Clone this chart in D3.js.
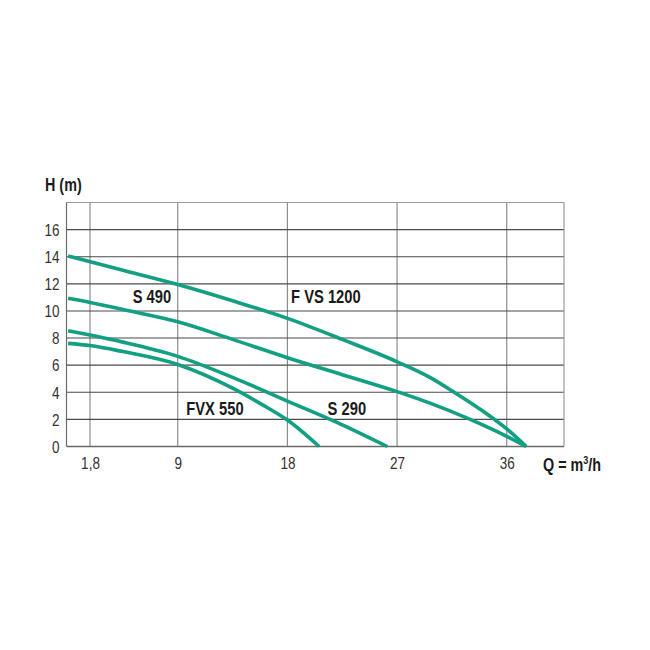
<!DOCTYPE html>
<html>
<head>
<meta charset="utf-8">
<script src="https://cdn.jsdelivr.net/npm/d3@7"></script>
<style>
  html, body { margin: 0; padding: 0; background: #fff; }
  svg { display: block; }
  .narrow { font-family: "Liberation Sans", Arial, sans-serif; }
</style>
</head>
<body>
<svg id="chart" width="650" height="650"></svg>
<script>
// ---- data ----
const xTicks = [1.8, 9, 18, 27, 36];
const xTickLabels = ["1,8", "9", "18", "27", "36"];
const yTicks = [0, 2, 4, 6, 8, 10, 12, 14, 16];

const seriesNames = ["F VS 1200", "S 490", "S 290", "FVX 550"];

const fvs1200Q = [0, 4.5, 9, 13.5, 18, 22.5, 27, 29.7, 31.6, 34.3, 36, 37.6];
const fvs1200H = [14.05, 13.0, 11.95, 10.75, 9.45, 7.9, 6.25, 5.1, 4.05, 2.45, 1.3, 0];

const s490Q = [0, 1.8, 4.5, 9, 13.5, 18, 22.5, 27, 29.7, 33, 36, 37.6];
const s490H = [10.93, 10.63, 10.1, 9.2, 7.9, 6.55, 5.3, 4.05, 3.2, 2.0, 0.75, 0];

const s290Q = [0, 1.8, 4.5, 9, 13.5, 18, 22.5, 26.2];
const s290H = [8.54, 8.22, 7.7, 6.65, 5.1, 3.35, 1.6, 0];

const fvx550Q = [0, 1.8, 4.5, 9, 13.5, 16, 18, 20.6];
const fvx550H = [7.61, 7.45, 7.0, 6.05, 4.3, 3.05, 1.95, 0];

const labelText = ["S 490", "F VS 1200", "FVX 550", "S 290"];
const labelQ = [5.3, 18.3, 9.7, 21.3];
const labelH = [10.55, 10.55, 2.3, 2.3];

// ---- layout ----
const svg = d3.select("#chart");
const pLeft = 66.5, pRight = 564, pTop = 202.5, pBottom = 446.5;
const squeeze = "scale(0.82,1)";

const x = d3.scaleLinear().domain([-0.13, 40.7]).range([pLeft, pRight]);
const y = d3.scaleLinear().domain([0, 18]).range([pBottom, pTop]);

const green = "#129f82";

// vertical grid lines
svg.append("g").selectAll("line").data(xTicks).join("line")
  .attr("x1", d => x(d)).attr("x2", d => x(d))
  .attr("y1", pTop).attr("y2", pBottom)
  .attr("stroke", "#8c8c8c").attr("stroke-width", 1.2);

// horizontal grid lines
svg.append("g").selectAll("line").data(yTicks.filter(d => d > 0)).join("line")
  .attr("x1", pLeft).attr("x2", pRight)
  .attr("y1", d => y(d)).attr("y2", d => y(d))
  .attr("stroke", "#4a4a4a").attr("stroke-width", 1.1);

// frame
svg.append("line").attr("x1", pLeft).attr("x2", pRight).attr("y1", pTop).attr("y2", pTop)
  .attr("stroke", "#9a9a9a").attr("stroke-width", 1.2);
svg.append("line").attr("x1", pRight).attr("x2", pRight).attr("y1", pTop).attr("y2", pBottom)
  .attr("stroke", "#9a9a9a").attr("stroke-width", 1.2);
svg.append("line").attr("x1", pLeft).attr("x2", pLeft).attr("y1", pTop).attr("y2", pBottom)
  .attr("stroke", "#6a6a6a").attr("stroke-width", 1.2);
svg.append("line").attr("x1", pLeft).attr("x2", pRight).attr("y1", pBottom).attr("y2", pBottom)
  .attr("stroke", "#6a6a6a").attr("stroke-width", 1.3);

// axes (labels only)
const yAxis = d3.axisLeft(y).tickValues(yTicks).tickSize(0).tickPadding(0).tickFormat(d3.format("d"));
const gy = svg.append("g").attr("transform", `translate(${pLeft - 7},0)`).call(yAxis);
gy.select(".domain").remove();
gy.attr("font-family", null);
gy.selectAll("text").attr("class", "narrow").attr("font-size", 16.5).attr("fill", "#333")
  .attr("dy", "0.35em").attr("transform", squeeze);

const xAxis = d3.axisBottom(x).tickValues(xTicks).tickSize(0).tickPadding(0)
  .tickFormat((d, i) => xTickLabels[i]);
const gx = svg.append("g").attr("transform", `translate(0,${pBottom + 10})`).call(xAxis);
gx.select(".domain").remove();
gx.attr("font-family", null);
gx.selectAll("text").attr("class", "narrow").attr("font-size", 16.5).attr("fill", "#333")
  .attr("dy", "0.75em").attr("transform", squeeze);

// curves
const line = d3.line().x(d => x(d[0])).y(d => y(d[1])).curve(d3.curveMonotoneX);
const allQ = [fvs1200Q, s490Q, s290Q, fvx550Q];
const allH = [fvs1200H, s490H, s290H, fvx550H];
svg.append("g").selectAll("path").data(seriesNames).join("path")
  .attr("d", (n, i) => line(allQ[i].map((q, j) => [q, allH[i][j]])))
  .attr("fill", "none").attr("stroke", green).attr("stroke-width", 3.6);

// curve labels
svg.append("g").selectAll("text").data(labelText).join("text")
  .attr("class", "narrow")
  .attr("transform", (d, i) => `translate(${x(labelQ[i])},${y(labelH[i])}) ${squeeze}`)
  .attr("font-size", 18).attr("font-weight", "bold").attr("fill", "#1a1a1a")
  .text(d => d);

// axis titles
svg.append("text").attr("class", "narrow")
  .attr("transform", `translate(45,191) ${squeeze}`)
  .attr("font-size", 17.5).attr("font-weight", "bold").attr("fill", "#1a1a1a")
  .text("H (m)");

const qt = svg.append("text").attr("class", "narrow")
  .attr("transform", `translate(543,471) ${squeeze}`)
  .attr("font-size", 17.5).attr("font-weight", "bold").attr("fill", "#1a1a1a");
qt.append("tspan").text("Q = m");
qt.append("tspan").attr("font-size", 11).attr("dy", -7).text("3");
qt.append("tspan").attr("dy", 7).text("/h");
</script>
</body>
</html>
